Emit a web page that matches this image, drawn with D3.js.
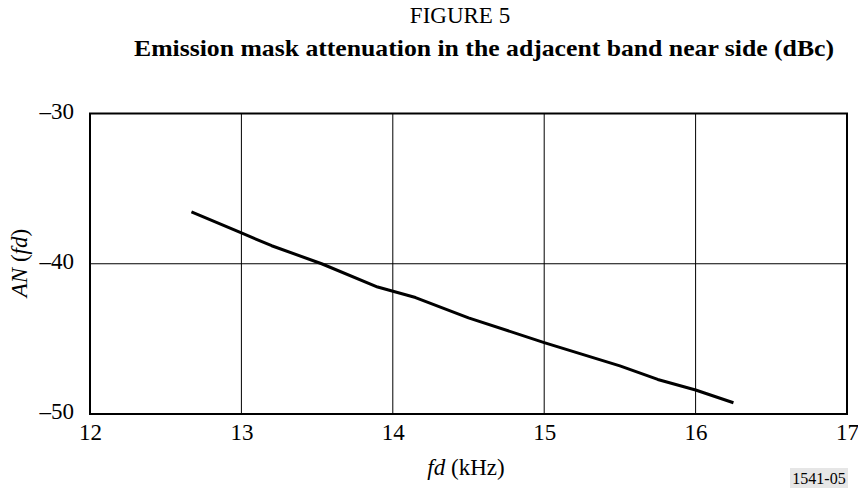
<!DOCTYPE html>
<meta charset="utf-8">
<script src="https://d3js.org/d3.v7.min.js"></script>
<style>
body { margin: 0; background: #fff; }
text { font-family: "Liberation Serif", "Times New Roman", serif; fill: #000; }
</style>
<body>
<div id="chart"></div>
<script>
// data
const fd = [12.67, 13.0, 13.2, 13.53, 13.9, 14.15, 14.5, 15.0, 15.5, 15.75, 16.0, 16.25];
const an = [-36.55, -37.95, -38.8, -40.0, -41.55, -42.25, -43.6, -45.25, -46.8, -47.7, -48.4, -49.25];
const xTicks = [12, 13, 14, 15, 16, 17];
const yTicks = [-30, -40, -50];

const W = 858, H = 490;
const margin = {top: 113.5, right: 11, bottom: 76, left: 90};
const width = W - margin.left - margin.right,
      height = H - margin.top - margin.bottom;

const svg = d3.select("#chart").append("svg")
    .attr("width", W)
    .attr("height", H);

svg.append("text")
    .attr("x", 460).attr("y", 23)
    .attr("text-anchor", "middle")
    .style("font-size", "23px")
    .text("FIGURE 5");

svg.append("text")
    .attr("x", 484).attr("y", 56)
    .attr("text-anchor", "middle")
    .attr("textLength", 700)
    .attr("lengthAdjust", "spacingAndGlyphs")
    .style("font-size", "24px")
    .style("font-weight", "bold")
    .text("Emission mask attenuation in the adjacent band near side (dBc)");

const g = svg.append("g")
    .attr("transform", `translate(${margin.left},${margin.top})`);

const x = d3.scaleLinear().domain([12, 17]).range([0, width]);
const y = d3.scaleLinear().domain([-50, -30]).range([height, 0]);

// grid
g.selectAll(".vgrid").data(xTicks.slice(1, -1)).join("line")
    .attr("x1", d => x(d)).attr("x2", d => x(d))
    .attr("y1", 0).attr("y2", height)
    .attr("stroke", "#000").attr("stroke-width", 1);
g.selectAll(".hgrid").data(yTicks.slice(1, -1)).join("line")
    .attr("x1", 0).attr("x2", width)
    .attr("y1", d => y(d)).attr("y2", d => y(d))
    .attr("stroke", "#000").attr("stroke-width", 1);

// frame
g.append("rect")
    .attr("width", width).attr("height", height)
    .attr("fill", "none").attr("stroke", "#000").attr("stroke-width", 2);

// axes (labels only)
const xAxis = g.append("g")
    .attr("transform", `translate(0,${height})`)
    .call(d3.axisBottom(x).tickValues(xTicks).tickSize(0).tickPadding(10).tickFormat(d3.format("d")));
const yAxis = g.append("g")
    .call(d3.axisLeft(y).tickValues(yTicks).tickSize(0).tickPadding(16)
      .tickFormat(d => "\u2013" + Math.abs(d)));
[xAxis, yAxis].forEach(a => {
  a.select(".domain").remove();
  a.selectAll("text").style("font-size", "23px").style("font-family", "Liberation Serif, serif");
});
yAxis.selectAll("text").attr("dy", "0.2em");

// curve
const pts = fd.map((v, i) => [v, an[i]]);
g.append("path")
    .datum(pts)
    .attr("fill", "none")
    .attr("stroke", "#000")
    .attr("stroke-width", 3)
    .attr("stroke-linejoin", "round")
    .attr("d", d3.line().x(d => x(d[0])).y(d => y(d[1])));

// axis titles
const xl = svg.append("text")
    .attr("x", 466).attr("y", 475)
    .attr("text-anchor", "middle")
    .style("font-size", "23px");
xl.append("tspan").style("font-style", "italic").text("fd");
xl.append("tspan").text(" (kHz)");

const yl = svg.append("text")
    .attr("transform", "translate(27,263) rotate(-90)")
    .attr("text-anchor", "middle")
    .style("font-size", "23px");
yl.append("tspan").style("font-style", "italic").text("AN");
yl.append("tspan").text(" (");
yl.append("tspan").style("font-style", "italic").text("fd");
yl.append("tspan").text(")");

// figure code
svg.append("rect")
    .attr("x", 790).attr("y", 468).attr("width", 58).attr("height", 20)
    .attr("fill", "#e6e6e6");
svg.append("text")
    .attr("x", 819).attr("y", 484)
    .attr("text-anchor", "middle")
    .style("font-size", "16px")
    .text("1541-05");
</script>
</body>
